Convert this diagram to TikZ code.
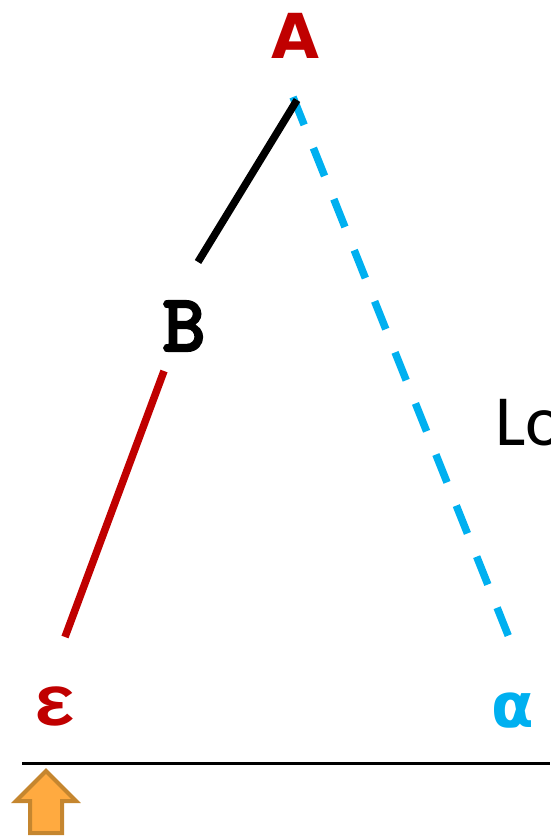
\documentclass[tikz,border=0pt]{standalone}
\usepackage{fontspec}
\newfontfamily\sansbold{DejaVu Sans}[BoldFont={DejaVu Sans Bold}]
\newfontfamily\monobold{Liberation Mono}
\newfontfamily\courb{lmmono10-regular.otf}[FakeBold=4]
\newfontfamily\calib{Carlito}
\definecolor{myred}{HTML}{C00000}
\definecolor{myblue}{HTML}{00B0F0}
\definecolor{arrfill}{HTML}{FFAA40}
\definecolor{arrdraw}{HTML}{C5862F}
\begin{document}
\begin{tikzpicture}[x=1pt,y=-1pt,
  lbl/.style={inner sep=0pt, outer sep=0pt},
  edge/.style={line width=7.5pt},
]
\useasboundingbox (0,0) rectangle (550,836);
\node[lbl, text=myred, font=\sansbold\bfseries\fontsize{62}{62}\selectfont] (A) at (295,36) {A};
\node[lbl, text=black, font=\courb\fontsize{80}{80}\selectfont] (B) at (184,326) {B};
\node[lbl, text=myred, font=\monobold\bfseries\fontsize{72}{72}\selectfont] (eps) at (55,706) {ε};
\node[lbl, text=myblue, font=\sansbold\bfseries\fontsize{62}{62}\selectfont] (alpha) at (513,711) {α};
\node[lbl, anchor=base west, font=\calib\fontsize{72}{72}\selectfont] (lo) at (495,445) {Lo};
% connector end points
\coordinate (a1) at (297,100);
\coordinate (b1) at (198,262);
\coordinate (a2) at (293,97);
\coordinate (c2) at (512,645);
\coordinate (b3) at (164,371);
\coordinate (e3) at (65,637);
\draw[edge, myblue, dash pattern=on 30pt off 25pt] (a2) -- (c2);
\draw[edge, black] (a1) -- (b1);
\draw[edge, myred] (b3) -- (e3);
% baseline
\coordinate (h1) at (22,763);
\coordinate (h2) at (550,763);
\draw[line width=3pt] (h1) -- (h2);
% up arrow
\draw[line width=4pt, draw=arrdraw, fill=arrfill, line join=miter]
  (46,771) -- (76,801) -- (62,801) -- (62,833) -- (30,833) -- (30,801) -- (16,801) -- cycle;
\end{tikzpicture}
\end{document}
